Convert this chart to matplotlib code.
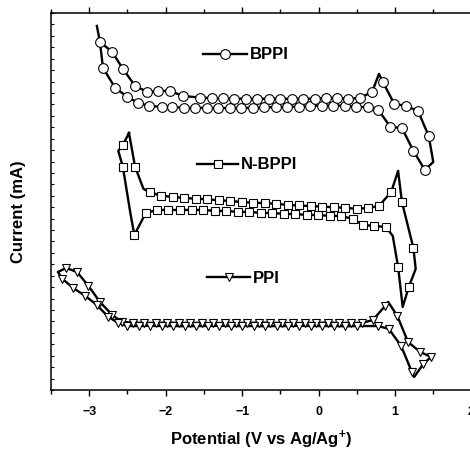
import matplotlib
matplotlib.use("Agg")
import matplotlib.pyplot as plt
from matplotlib.ticker import MultipleLocator

plt.rcParams["font.family"] = ["Liberation Sans", "DejaVu Sans"]
plt.rcParams["font.weight"] = "bold"
plt.rcParams["mathtext.fontset"] = "custom"
plt.rcParams["mathtext.rm"] = "Liberation Sans:bold"
plt.rcParams["mathtext.bf"] = "Liberation Sans:bold"
plt.rcParams["mathtext.default"] = "bf"

# CV loops: potential (V), current (arbitrary offset units)
bppi_x = [-2.90, -2.86, -2.82, -2.66, -2.50, -2.36, -2.22, -2.05, -1.92,
          -1.76, -1.61, -1.46, -1.31, -1.16, -1.01, -0.86, -0.71, -0.56,
          -0.41, -0.26, -0.11, 0.04, 0.19, 0.34, 0.49, 0.64,
          0.78, 0.94, 1.09, 1.24, 1.39, 1.50, 1.44, 1.30, 1.14, 0.99, 0.84,
          0.79, 0.70, 0.54, 0.39, 0.24, 0.10,
          -0.05, -0.20, -0.35, -0.50, -0.65, -0.80, -0.95, -1.10, -1.25,
          -1.40, -1.55,
          -1.78, -1.94, -2.10, -2.24, -2.40, -2.56, -2.70, -2.86]
bppi_y = [31.87, 30.47, 28.20, 26.44, 25.66, 25.13, 24.87, 24.78, 24.78,
          24.70, 24.70, 24.70, 24.65, 24.70, 24.70, 24.70, 24.75, 24.75,
          24.80, 24.80, 24.85, 24.90, 24.90, 24.90, 24.80, 24.75,
          24.52, 23.03, 22.94, 20.93, 19.26, 19.96, 22.24, 24.43, 24.87,
          25.04, 26.97, 27.67, 26.09, 25.57, 25.48, 25.57, 25.57,
          25.50, 25.50, 25.48, 25.50, 25.50, 25.48, 25.50, 25.50, 25.52,
          25.55, 25.60,
          25.74, 26.18, 26.18, 26.09, 26.62, 28.11, 29.60, 30.47]
bppi_plain = [0, 31, 37, 61]

nbppi_x = [-2.48, -2.56, -2.62, -2.56, -2.46, -2.41, -2.26,
           -2.11, -1.97, -1.81, -1.65, -1.51, -1.35, -1.21, -1.05, -0.91,
           -0.75, -0.61, -0.45, -0.31, -0.15, -0.01, 0.15, 0.29,
           0.45, 0.58, 0.73, 0.88, 0.97, 1.04, 1.10, 1.18, 1.27, 1.24, 1.09,
           1.04, 0.95, 0.79, 0.65, 0.50,
           0.35, 0.20, 0.05, -0.10, -0.25, -0.40, -0.56, -0.70, -0.86,
           -1.00, -1.16, -1.30, -1.46, -1.60, -1.76, -1.90, -2.06, -2.20,
           -2.29, -2.40, -2.48]
nbppi_y = [22.50, 21.45, 20.93, 19.53, 15.41, 13.57, 15.50,
           15.76, 15.76, 15.76, 15.76, 15.76, 15.67, 15.67, 15.59, 15.59,
           15.50, 15.50, 15.41, 15.41, 15.32, 15.32, 15.24, 15.24,
           14.97, 14.45, 14.36, 14.27, 13.49, 10.77, 7.27, 9.02, 10.60, 12.43,
           16.46, 19.18, 17.34, 16.11, 15.94, 15.85,
           15.95, 16.00, 16.05, 16.10, 16.15, 16.20, 16.30, 16.35, 16.40,
           16.45, 16.55, 16.60, 16.70, 16.75, 16.80, 16.90, 17.00, 17.30,
           17.60, 19.53, 22.50]
nbppi_plain = [0, 2, 4, 28, 30, 32, 35, 58, 60]

ppi_x = [1.47, 1.33, 1.17, 1.03, 0.91, 0.87, 0.71,
         0.57, 0.42, 0.27, 0.12, -0.03, -0.18, -0.33, -0.48, -0.63, -0.78,
         -0.93, -1.08, -1.23, -1.38, -1.53, -1.68, -1.83, -1.98, -2.13,
         -2.28, -2.43,
         -2.57, -2.70, -2.86, -3.01, -3.16, -3.30, -3.41, -3.35, -3.21,
         -3.05, -2.90, -2.75, -2.62,
         -2.50, -2.35, -2.20, -2.05, -1.90, -1.75, -1.60, -1.45, -1.30,
         -1.15, -1.00, -0.85, -0.70, -0.55, -0.40, -0.25, -0.10, 0.05,
         0.20, 0.35, 0.50,
         0.78, 0.92, 1.08, 1.22, 1.25, 1.37, 1.47]
ppi_y = [2.89, 3.33, 4.20, 6.48, 7.71, 7.36, 6.13,
         5.87, 5.87, 5.87, 5.90, 5.87, 5.87, 5.85, 5.87, 5.87, 5.90,
         5.87, 5.87, 5.87, 5.85, 5.87, 5.87, 5.87, 5.90, 5.87,
         5.87, 5.90,
         5.95, 6.57, 7.71, 9.11, 10.33, 10.68, 10.33, 9.72, 8.93,
         8.23, 7.44, 6.39, 5.87,
         5.60, 5.60, 5.62, 5.60, 5.60, 5.58, 5.60, 5.60, 5.62,
         5.60, 5.60, 5.60, 5.58, 5.60, 5.60, 5.62, 5.60, 5.60,
         5.60, 5.58, 5.60,
         5.60, 5.34, 3.85, 1.58, 1.14, 2.28, 2.89]
ppi_plain = [4, 34, 66, 68]

series = [
    ("BPPI", bppi_x, bppi_y, bppi_plain, "o", 7.0, 29.42, -1.51, -0.935),
    ("N-BPPI", nbppi_x, nbppi_y, nbppi_plain, "s", 6.0, 19.79, -1.59, -1.05),
    ("PPI", ppi_x, ppi_y, ppi_plain, "v", 6.0, 9.89, -1.46, -0.895),
]

fig = plt.figure(figsize=(4.7, 4.52), dpi=100)
ax = fig.add_axes([51 / 470, 61 / 452, 420.5 / 470, 377 / 452])

for name, xs, ys, plain, mk, ms, ly, lx0, lx1 in series:
    marks = [i for i in range(len(xs)) if i not in plain]
    ax.plot(xs, ys, color="black", lw=1.7, marker=mk, ms=ms, mfc="white",
            mec="black", mew=0.8, markevery=marks)
    # in-plot legend sample + label
    ax.plot([lx0, (lx0 + lx1) / 2, lx1], [ly, ly, ly], color="black", lw=1.7,
            marker=mk, ms=ms, mfc="white", mec="black", mew=0.8, markevery=[1])
    ax.text(lx1 + 0.04, ly, name, fontsize=12, fontweight="bold",
            ha="left", va="center")

ax.set_xlim(-3.5, 2)
ax.set_ylim(0, 33)
ax.xaxis.set_major_locator(MultipleLocator(1))
ax.xaxis.set_minor_locator(MultipleLocator(0.5))
ax.yaxis.set_major_locator(MultipleLocator(1))
ax.tick_params(axis="x", which="major", direction="out", length=4.5, width=1,
               labelsize=9, pad=6)
ax.tick_params(axis="x", which="minor", direction="out", length=3, width=1)
ax.tick_params(axis="x", which="both", top=True, labeltop=False)
ax.tick_params(axis="y", which="both", direction="in", length=2.5, width=0.8,
               labelleft=False)
for lab in ax.get_xticklabels():
    lab.set_fontweight("bold")

for sp in ax.spines.values():
    sp.set_linewidth(1.1)

ax.set_xlabel("Potential (V vs Ag/Ag$^{+}$)", fontsize=12, fontweight="bold",
              labelpad=8)
ax.set_ylabel("Current (mA)", fontsize=12, fontweight="bold")
ax.yaxis.set_label_coords(-0.06, 0.476)

fig.savefig("out.png", dpi=100)
